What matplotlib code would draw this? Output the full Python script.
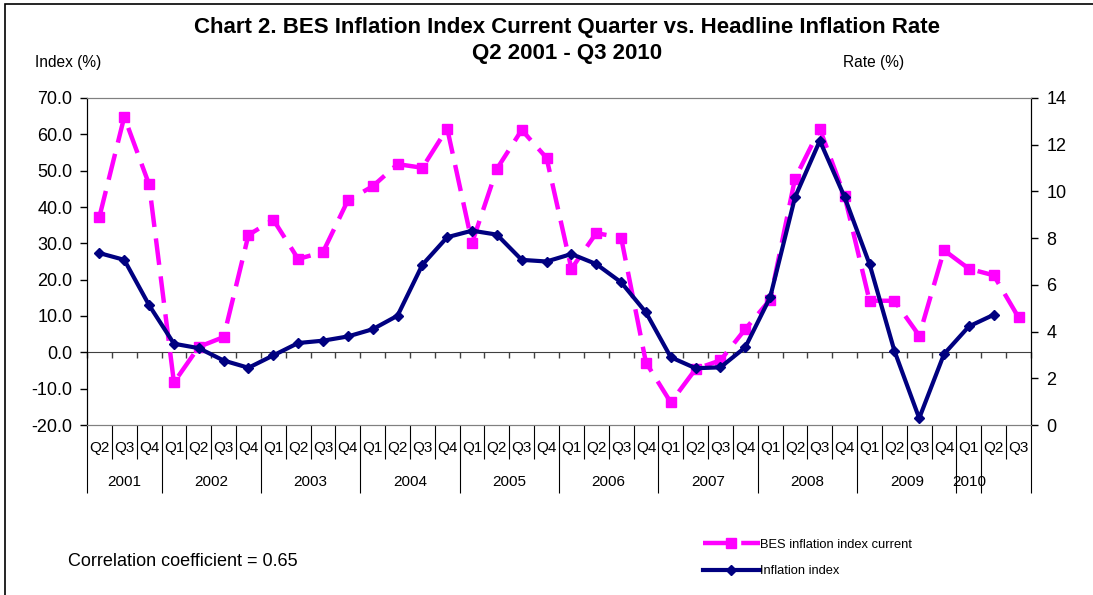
import matplotlib
matplotlib.use("Agg")
import matplotlib.pyplot as plt
from matplotlib.patches import Rectangle
import matplotlib.transforms as mtransforms
import numpy as np

plt.rcParams['font.family'] = ['Liberation Sans', 'DejaVu Sans']

quarters = ["Q2", "Q3", "Q4"] + ["Q1", "Q2", "Q3", "Q4"] * 8 + ["Q1", "Q2", "Q3"]
years = ["2001", "2002", "2003", "2004", "2005", "2006", "2007", "2008", "2009", "2010"]
# quarter index where each year group starts / label center index
year_start = [0, 3, 7, 11, 15, 19, 23, 27, 31, 35]
year_label_pos = [1.5, 5.0, 9.0, 13.0, 17.0, 21.0, 25.0, 29.0, 33.0, 35.5]
extra_separators = [36]

bes_index = [37.3, 64.8, 46.2, -8.3, 1.5, 4.2, 32.3, 36.5, 25.7, 27.6,
             41.8, 45.7, 51.8, 50.8, 61.6, 30.1, 50.5, 61.2, 53.5, 23.0,
             32.8, 31.6, -2.8, -13.8, -4.6, -2.2, 6.4, 14.5, 47.8, 61.5,
             42.9, 14.2, 14.2, 4.6, 28.1, 23.0, 21.2, 9.6]
inflation = [7.36, 7.07, 5.13, 3.48, 3.29, 2.76, 2.45, 2.98, 3.51, 3.61,
             3.79, 4.10, 4.68, 6.86, 8.04, 8.32, 8.15, 7.07, 7.00, 7.32,
             6.89, 6.11, 4.82, 2.90, 2.43, 2.47, 3.33, 5.47, 9.75, 12.17,
             9.75, 6.89, 3.18, 0.29, 3.04, 4.22, 4.72]

W, H = 1093, 595
fig = plt.figure(figsize=(W / 100, H / 100), dpi=100)

# outer frame
fig.patches.append(Rectangle((5 / W, -0.05), 1.1, 1 - 4 / H + 0.05, transform=fig.transFigure,
                             fill=False, edgecolor='black', linewidth=1.2))

L, R, T, B = 87, 1031, 98, 425
ax = fig.add_axes([L / W, 1 - B / H, (R - L) / W, (B - T) / H])
ax.set_xlim(0, len(quarters))
ax.set_ylim(-20, 70)
ax.set_yticks(np.arange(-20, 71, 10))
ax.set_yticklabels([f"{v:.1f}" for v in np.arange(-20, 71, 10)], fontsize=13)
ax.tick_params(axis='y', direction='out', length=5, width=1, pad=5.5)

ax2 = ax.twinx()
ax2.set_ylim(0, 14)
ax2.set_yticks(np.arange(0, 15, 2))
ax2.set_yticklabels([str(v) for v in range(0, 15, 2)], fontsize=13)
ax2.tick_params(axis='y', direction='out', length=5, width=1, pad=6)

for a in (ax, ax2):
    a.spines['top'].set_color('#808080')
    a.spines['bottom'].set_color('#808080')
    a.spines['left'].set_color('black')
    a.spines['right'].set_color('black')

x = np.arange(len(quarters)) + 0.5
l1, = ax.plot(x, bes_index, color='#FF00FF', linewidth=3.2, dashes=(6, 2.6),
              marker='s', markersize=7, markerfacecolor='#FF00FF', markeredgecolor='#FF00FF',
              label='BES inflation index current', zorder=3)
l2, = ax2.plot(x[:len(inflation)], inflation, color='#000080', linewidth=3,
               marker='D', markersize=5.5, markerfacecolor='#000080', markeredgecolor='#000080',
               label='Inflation index', zorder=4)

# category axis ticks at bottom: quarter separators (short) and year separators (long)
ax.set_xticks(np.arange(0, len(quarters) + 1), minor=True)
ax.set_xticks(year_start + extra_separators + [len(quarters)])
ax.set_xticklabels([])
ax.tick_params(axis='x', which='minor', direction='out', length=24.5, width=0.8, color='black')
ax.tick_params(axis='x', which='major', direction='out', length=49, width=0.8, color='black')

# zero line with small tick marks
sec = ax.secondary_xaxis(20 / 90)
sec.set_xticks(np.arange(0, len(quarters) + 1))
sec.set_xticklabels([])
sec.tick_params(direction='out', length=4, width=1, color='#404040')
sec.spines['bottom'].set_color('#404040')

trans = mtransforms.blended_transform_factory(ax.transData, fig.transFigure)
for i, q in enumerate(quarters):
    ax.text(i + 0.5, 1 - 448 / H, q, transform=trans, ha='center', va='center', fontsize=11)
for pos, yr in zip(year_label_pos, years):
    ax.text(pos, 1 - 482 / H, yr, transform=trans, ha='center', va='center', fontsize=11)

fig.text(567 / W, 1 - 27 / H, "Chart 2. BES Inflation Index Current Quarter vs. Headline Inflation Rate",
         ha='center', va='center', fontsize=16, fontweight='bold')
fig.text(567 / W, 1 - 54 / H, "Q2 2001 - Q3 2010", ha='center', va='center',
         fontsize=16, fontweight='bold')
fig.text(35 / W, 1 - 62 / H, "Index (%)", ha='left', va='center', fontsize=11.2)
fig.text(874 / W, 1 - 62 / H, "Rate (%)", ha='center', va='center', fontsize=11.2)
fig.text(68 / W, 1 - 562 / H, "Correlation coefficient = 0.65", ha='left', va='center', fontsize=13)

fig.legend(handles=[l1, l2], loc='center left', bbox_to_anchor=(703 / W, 1 - 558 / H),
           frameon=False, handlelength=4.4, handletextpad=0.05,
           labelspacing=1.1, borderaxespad=0, borderpad=0,
           prop={'family': ['Liberation Sans Narrow', 'Liberation Sans'], 'size': 9.3})

fig.savefig("out.png", dpi=100)
